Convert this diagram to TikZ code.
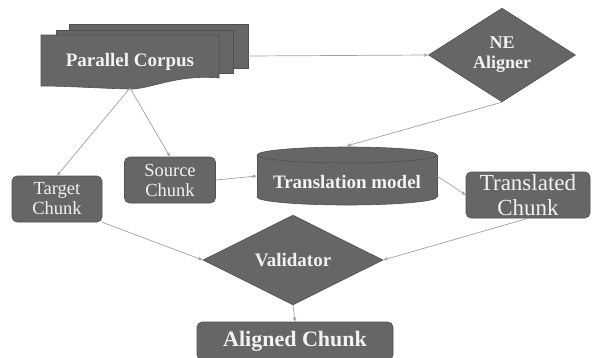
\documentclass[tikz,border=0pt]{standalone}
\usepackage{fontspec}
\setmainfont{Liberation Serif}
\usetikzlibrary{shapes.geometric,arrows.meta}
\definecolor{boxfill}{HTML}{666666}
\definecolor{boxline}{HTML}{505050}
\definecolor{arrowc}{HTML}{A0A0A0}
\definecolor{txt}{HTML}{F2F2F2}
\begin{document}
\begin{tikzpicture}[x=1pt,y=-1pt,
  boxshape/.style={draw=boxline, fill=boxfill, line width=0.6pt},
  chunk/.style={boxshape, rounded corners=5pt, text=txt, align=center, inner sep=0pt},
  dia/.style={boxshape, diamond, text=txt, align=center, inner sep=0pt},
  lbl/.style={text=txt, align=center, inner sep=0pt},
  conn/.style={draw=arrowc, line width=0.7pt, -{Stealth[length=4.5pt,width=3.5pt]}},
  bigbold/.style={font=\fontsize{19}{21}\selectfont\bfseries},
  midbold/.style={font=\fontsize{18}{20}\selectfont\bfseries},
  midreg/.style={font=\fontsize{18.5}{20}\selectfont},
  largereg/.style={font=\fontsize{23}{25}\selectfont},
]
\useasboundingbox[fill=white] (0,0) rectangle (594,357);

% Parallel corpus (multi-document)
\path[boxshape] (69,24) rectangle (248,68);
\path[boxshape] (56,30) rectangle (233,73);
\path[boxshape] (41,35) -- (219,35) -- (219,78) .. controls (175,74) and (150,90) .. (128,89) .. controls (95,88) and (65,86) .. (41,86) -- cycle;
\node[lbl, bigbold] (pc) at (130,62) {Parallel Corpus};
\coordinate (pcbot) at (130,88);
\coordinate (pcright) at (248,56);

% NE Aligner
\node[dia, midbold, minimum width=147pt, minimum height=90pt] (ne) at (502,55) {NE\\Aligner};

% Translation model cylinder
\node[minimum width=180pt, minimum height=60pt, inner sep=0pt] (tm) at (347,176) {};
\path[boxshape] (347,197) ellipse[x radius=90, y radius=8];
\path[fill=boxfill] (257,155) rectangle (437,197);
\draw[boxline, line width=0.6pt] (257,155) -- (257,197) (437,155) -- (437,197);
\path[boxshape] (347,155) ellipse[x radius=90, y radius=8];
\node[lbl, bigbold] (tml) at (347,182) {Translation model};

% Chunks
\node[chunk, midreg, minimum width=91pt, minimum height=46pt] (sc) at (170,180) {Source\\Chunk};
\node[chunk, midreg, minimum width=90pt, minimum height=46pt] (tg) at (57,199) {Target\\Chunk};
\node[chunk, largereg, minimum width=124pt, minimum height=46pt] (tc) at (528,195) {Translated\\Chunk};

% Validator
\node[dia, bigbold, minimum width=180pt, minimum height=82pt] (val) at (293,260) {Validator};

% Aligned chunk
\node[chunk, font=\fontsize{22}{24}\selectfont\bfseries, minimum width=196pt, minimum height=38pt] (ac) at (295,341) {Aligned Chunk};

% Connectors
\draw[conn] (pcright) -- (ne.west);
\draw[conn] (ne.south) -- (tm.north);
\draw[conn] (pcbot) -- (tg.north);
\draw[conn] (pcbot) -- (sc.north);
\draw[conn] (sc.east) -- (tm.west);
\draw[conn] (tm.east) -- (tc.west);
\draw[conn] (tc.south) -- (val.east);
\draw[conn] (tg.south east) -- (val.west);
\draw[conn] (val.south) -- (ac.north);
\end{tikzpicture}
\end{document}
